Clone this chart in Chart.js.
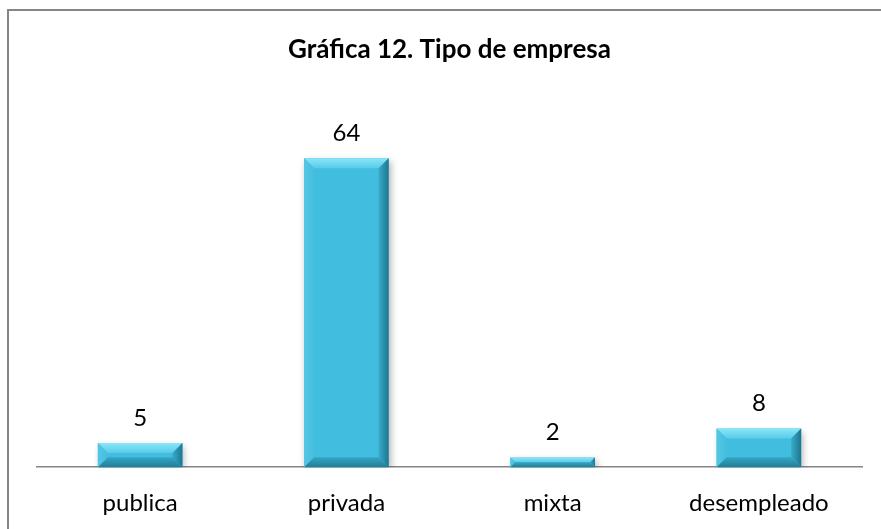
<!DOCTYPE html>
<html>
<head>
<meta charset="utf-8">
<script src="https://cdn.jsdelivr.net/npm/chart.js@4.4.0/dist/chart.umd.min.js"></script>
<style>
  html, body { margin: 0; padding: 0; background: #fff; overflow: hidden; }
  #wrap { position: absolute; left: 0; top: 0; width: 881px; height: 541px; }
</style>
</head>
<body>
<div id="wrap"><canvas id="grafica"></canvas></div>
<script>
var categorias = ["publica", "privada", "mixta", "desempleado"];
var valores = [5, 64, 2, 8];
var tituloTexto = "Gráfica 12. Tipo de empresa";

var fuente = "Lato, 'Open Sans', sans-serif";

// marco del área del gráfico (solo se ven los bordes izquierdo y superior)
var marcoPlugin = {
	id: 'marco',
	beforeDraw: function (chart) {
		var ctx = chart.ctx;
		ctx.save();
		ctx.fillStyle = '#fff';
		ctx.fillRect(0, 0, chart.width, chart.height);
		ctx.strokeStyle = '#868686';
		ctx.lineWidth = 2;
		ctx.beginPath();
		ctx.moveTo(8, chart.height);
		ctx.lineTo(8, 10);
		ctx.lineTo(chart.width, 10);
		ctx.stroke();
		ctx.restore();
	}
};

// bisel y sombra de las barras, dibujado sobre cada barra que calcula Chart.js
var biselPlugin = {
	id: 'bisel',
	beforeDatasetDraw: function (chart) {
		var ctx = chart.ctx;
		ctx.save();
		ctx.shadowColor = 'rgba(0,0,0,0.3)';
		ctx.shadowBlur = 7;
		ctx.shadowOffsetX = 2;
		ctx.shadowOffsetY = 3;
	},
	afterDatasetDraw: function (chart) {
		var ctx = chart.ctx;
		ctx.restore();
		var meta = chart.getDatasetMeta(0);
		meta.data.forEach(function (bar, i) {
			var w = bar.width;
			var x0 = bar.x - w / 2, x1 = bar.x + w / 2;
			var y0 = bar.y, y1 = bar.base;
			var b = Math.min(10, (y1 - y0) / 2, w / 2);

			// arriba
			var g = ctx.createLinearGradient(0, y0, 0, y0 + b);
			g.addColorStop(0, '#8ae6f8');
			g.addColorStop(1, '#58cbea');
			ctx.fillStyle = g;
			ctx.beginPath();
			ctx.moveTo(x0, y0); ctx.lineTo(x1, y0); ctx.lineTo(x1 - b, y0 + b); ctx.lineTo(x0 + b, y0 + b);
			ctx.closePath(); ctx.fill();

			// izquierda
			g = ctx.createLinearGradient(x0, 0, x0 + b, 0);
			g.addColorStop(0, '#55c6e4');
			g.addColorStop(1, '#45bedf');
			ctx.fillStyle = g;
			ctx.beginPath();
			ctx.moveTo(x0, y0); ctx.lineTo(x0 + b, y0 + b); ctx.lineTo(x0 + b, y1 - b); ctx.lineTo(x0, y1);
			ctx.closePath(); ctx.fill();

			// derecha
			g = ctx.createLinearGradient(x1 - b, 0, x1, 0);
			g.addColorStop(0, '#38abca');
			g.addColorStop(1, '#1d7690');
			ctx.fillStyle = g;
			ctx.beginPath();
			ctx.moveTo(x1, y0); ctx.lineTo(x1, y1); ctx.lineTo(x1 - b, y1 - b); ctx.lineTo(x1 - b, y0 + b);
			ctx.closePath(); ctx.fill();

			// abajo
			g = ctx.createLinearGradient(0, y1 - b, 0, y1);
			g.addColorStop(0, '#35a6c4');
			g.addColorStop(1, '#1f7e98');
			ctx.fillStyle = g;
			ctx.beginPath();
			ctx.moveTo(x0, y1); ctx.lineTo(x1, y1); ctx.lineTo(x1 - b, y1 - b); ctx.lineTo(x0 + b, y1 - b);
			ctx.closePath(); ctx.fill();

			// etiqueta de valor
			ctx.fillStyle = '#000';
			ctx.font = '24px ' + fuente;
			ctx.textAlign = 'center';
			ctx.textBaseline = 'middle';
			ctx.fillText(String(valores[i]), bar.x, y0 - 25);
		});
	}
};

new Chart(document.getElementById('grafica'), {
	type: 'bar',
	data: {
		labels: categorias,
		datasets: [{
			data: valores,
			backgroundColor: '#41bddf',
			borderWidth: 0,
			barPercentage: 0.41,
			categoryPercentage: 1
		}]
	},
	options: {
		responsive: true,
		maintainAspectRatio: false,
		animation: false,
		events: [],
		layout: { padding: { left: 37, right: 19, top: 0, bottom: 1 } },
		plugins: {
			legend: { display: false },
			tooltip: { enabled: false },
			title: {
				display: true,
				text: tituloTexto,
				color: '#000',
				font: { family: fuente, size: 26, weight: 'bold' },
				padding: { top: 34, bottom: 64 }
			}
		},
		scales: {
			x: {
				grid: { display: false, drawTicks: false },
				border: { display: true, color: '#868686', width: 1.5 },
				ticks: { color: '#000', padding: 22, font: { family: fuente, size: 24 } }
			},
			y: {
				display: false,
				min: 0,
				max: 70
			}
		}
	},
	plugins: [marcoPlugin, biselPlugin]
});
</script>
</body>
</html>
